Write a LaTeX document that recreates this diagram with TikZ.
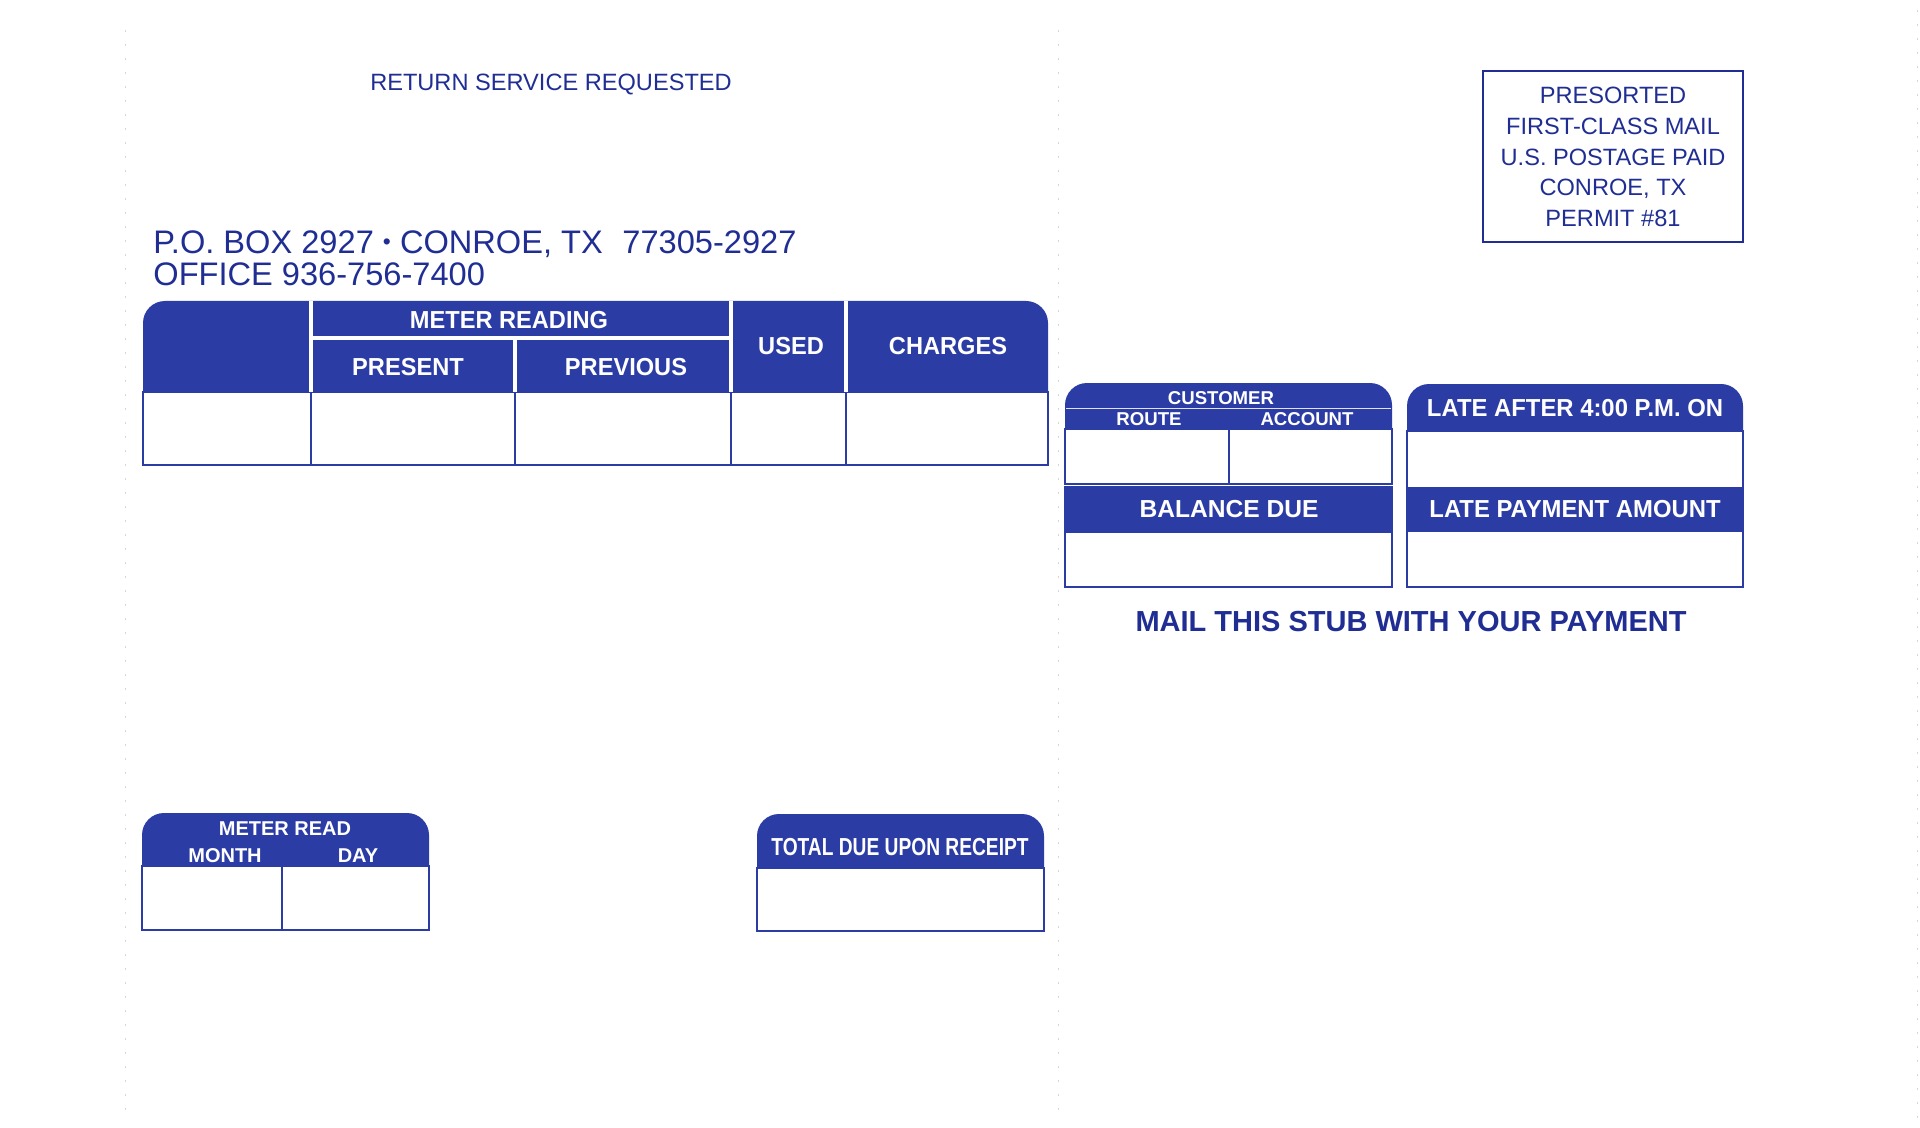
\documentclass[tikz,border=0pt]{standalone}
\usepackage{fontspec}
\setmainfont{Liberation Sans}
\definecolor{fillblue}{RGB}{44,60,165}
\definecolor{inkblue}{RGB}{32,46,148}
\definecolor{perf}{RGB}{215,215,215}
\tikzset{
  hdr/.style={fill=fillblue},
  bodybox/.style={fill=white,draw=fillblue,line width=1pt},
  rule/.style={draw=fillblue,line width=1pt},
  sep/.style={draw=white,line width=1.6pt},
  thinsep/.style={draw=white!85!fillblue,line width=0.5pt},
  perfline/.style={draw=perf,line width=0.5pt,dash pattern=on 1pt off 6pt},
  lbl/.style={inner sep=0pt,text=white,font=\bfseries\fontsize{12.3}{14}\selectfont,text height=8.8pt,text depth=0pt},
  smalllbl/.style={inner sep=0pt,text=white,font=\bfseries\fontsize{9.3}{11}\selectfont,text height=6.66pt,text depth=0pt},
  midlbl/.style={inner sep=0pt,text=white,font=\bfseries\fontsize{10}{12}\selectfont,text height=7.16pt,text depth=0pt},
  addr/.style={inner sep=0pt,anchor=west,text=inkblue,font=\fontsize{16.3}{18}\selectfont,text height=11.7pt,text depth=0pt},
  postal/.style={inner sep=0pt,text=inkblue,font=\fontsize{11.8}{13}\selectfont,text height=8.45pt,text depth=0pt},
  mailnote/.style={inner sep=0pt,text=inkblue,font=\bfseries\fontsize{14.5}{16}\selectfont,text height=10.4pt,text depth=0pt}
}
\begin{document}
\begin{tikzpicture}[x=0.5pt,y=-0.5pt]
\useasboundingbox[fill=white] (0,0) rectangle (1920,1128);
% perforation lines
\draw[perfline] (125,30) -- (125,1120);
\draw[perfline] (1058,30) -- (1058,1120);
\draw[perfline] (1917,10) -- (1917,1128);

% top-left texts
\node[postal] (ret) at (551,82) {RETURN SERVICE REQUESTED};
\node[addr] (pobox) at (153,242) {P.O. BOX 2927 \raisebox{0.12em}{\scalebox{0.7}{\textbullet}} CONROE, TX\hspace{0.6em}77305-2927};
\node[addr] (office) at (153,274) {OFFICE 936-756-7400};

% postage box
\draw[draw=inkblue,line width=0.9pt] (1483,71) rectangle (1743,242);
\node[postal] (p1) at (1613,95) {PRESORTED};
\node[postal] (p2) at (1613,126) {FIRST-CLASS MAIL};
\node[postal] (p3) at (1613,157) {U.S. POSTAGE PAID};
\node[postal] (p4) at (1613,187) {CONROE, TX};
\node[postal] (p5) at (1613,218) {PERMIT \#81};

% main table
\fill[hdr,rounded corners=11pt] (143,301) rectangle (1048,430);
\draw[bodybox] (143,392) rectangle (1048,465);
\draw[rule] (311,392) -- (311,465);
\draw[rule] (515,392) -- (515,465);
\draw[rule] (731,392) -- (731,465);
\draw[rule] (846,392) -- (846,465);
\draw[sep] (311,301) -- (311,392);
\draw[sep] (731,301) -- (731,392);
\draw[sep] (846,301) -- (846,392);
\draw[sep] (311,338) -- (731,338);
\draw[sep] (515,338) -- (515,392);
\node[lbl] (meterreading) at (509,320) {\scalebox{0.96}[1]{METER READING}};
\node[lbl] (present) at (408,367) {\scalebox{0.96}[1]{PRESENT}};
\node[lbl] (previous) at (626,367) {\scalebox{0.96}[1]{PREVIOUS}};
\node[lbl] (used) at (791,346) {\scalebox{0.96}[1]{USED}};
\node[lbl] (charges) at (948,346) {\scalebox{0.96}[1]{CHARGES}};

% customer box
\fill[hdr,rounded corners=11pt] (1065,383) rectangle (1392,460);
\draw[bodybox] (1065,429) rectangle (1392,484);
\draw[rule] (1229,429) -- (1229,484);
\draw[thinsep] (1066,408) -- (1391,408);
\node[smalllbl] (customer) at (1221,398) {CUSTOMER};
\node[smalllbl] (route) at (1149,419) {ROUTE};
\node[smalllbl] (account) at (1307,419) {ACCOUNT};

% balance due box
\fill[hdr] (1065,487) rectangle (1392,532);
\draw[bodybox] (1065,532) rectangle (1392,587);
\draw[draw=fillblue,line width=1pt] (1065,487) rectangle (1392,587);
\node[lbl] (balance) at (1229,509) {BALANCE DUE};

% late box
\fill[hdr,rounded corners=11pt] (1407,384) rectangle (1743,460);
\draw[bodybox] (1407,431) rectangle (1743,587);
\fill[hdr] (1407,487) rectangle (1743,532);
\draw[draw=fillblue,line width=1pt] (1407,431) rectangle (1743,587);
\node[lbl] (lateafter) at (1575,408) {\scalebox{0.97}[1]{LATE AFTER 4:00 P.M. ON}};
\node[lbl] (latepay) at (1575,509) {\scalebox{0.97}[1]{LATE PAYMENT AMOUNT}};

\node[mailnote] (mail) at (1411,621) {MAIL THIS STUB WITH YOUR PAYMENT};

% meter read box
\fill[hdr,rounded corners=11pt] (142,813) rectangle (429,890);
\draw[bodybox] (142,866) rectangle (429,930);
\draw[rule] (282,866) -- (282,930);
\node[midlbl] (meterread) at (285,828) {METER READ};
\node[midlbl] (month) at (225,855) {MONTH};
\node[midlbl] (day) at (358,855) {DAY};

% total due box
\fill[hdr,rounded corners=11pt] (757,814) rectangle (1044,890);
\draw[bodybox] (757,868) rectangle (1044,931);
\node[lbl] (totaldue) at (900,847) {\scalebox{0.78}[1]{TOTAL DUE UPON RECEIPT}};
\end{tikzpicture}
\end{document}
